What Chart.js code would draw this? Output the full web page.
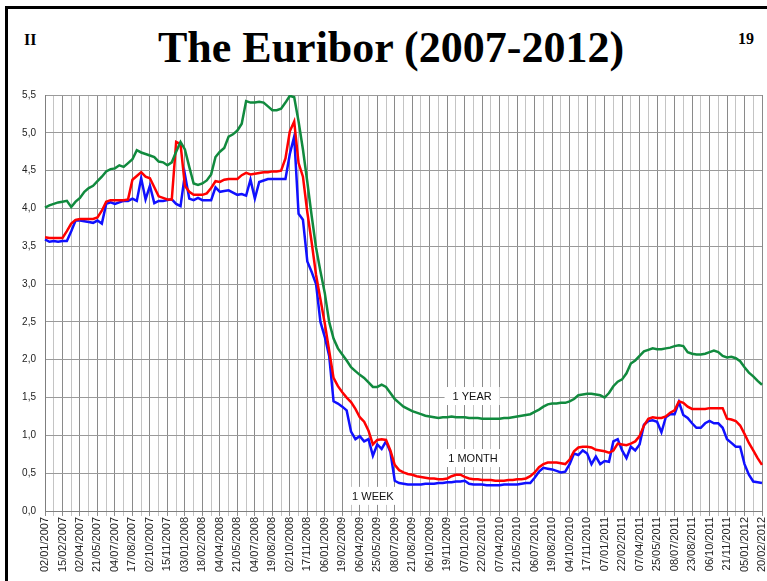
<!DOCTYPE html>
<html>
<head>
<meta charset="utf-8">
<script src="https://cdn.jsdelivr.net/npm/chart.js@4"></script>
<style>
  body { margin: 0; width: 767px; height: 581px; overflow: hidden; background: #fff; position: relative; }
  #frame { position: absolute; left: 5px; top: 6px; width: 770px; height: 600px;
           border-left: 3px solid #000; border-top: 3px solid #000; }
  .hd { position: absolute; font-family: "Liberation Serif", "Times New Roman", serif; font-weight: bold; color: #000; }
  #title { left: 0; width: 782px; text-align: center; top: 22px; font-size: 44px; }
  #sec { left: 24px; top: 31px; font-size: 16px; }
  #pg { left: 738px; top: 30px; font-size: 16px; }
  #c { position: absolute; left: 0; top: 0; }
</style>
</head>
<body>
<div id="frame"></div>
<div class="hd" id="sec">II</div>
<div class="hd" id="title">The Euribor (2007-2012)</div>
<div class="hd" id="pg">19</div>
<canvas id="c" width="767" height="581"></canvas>
<script>
// tick labels on the date axis (one every 4 samples)
var dateLabels = ["02/01/2007","15/02/2007","02/04/2007","21/05/2007","04/07/2007","17/08/2007","02/10/2007","15/11/2007",
  "03/01/2008","18/02/2008","04/04/2008","21/05/2008","04/07/2008","19/08/2008","02/10/2008","17/11/2008",
  "06/01/2009","19/02/2009","06/04/2009","25/05/2009","08/07/2009","21/08/2009","06/10/2009","19/11/2009",
  "07/01/2010","22/02/2010","07/04/2010","21/05/2010","06/07/2010","19/08/2010","04/10/2010","17/11/2010",
  "07/01/2011","22/02/2011","07/04/2011","25/05/2011","08/07/2011","23/08/2011","06/10/2011","21/11/2011",
  "05/01/2012","20/02/2012"];
var perLabel = 4;

var week = [3.59,3.56,3.57,3.56,3.57,3.57,3.70,3.84,3.84,3.83,
  3.82,3.81,3.84,3.80,4.06,4.08,4.06,4.08,4.10,4.10,
  4.13,4.10,4.40,4.12,4.30,4.07,4.10,4.10,4.11,4.12,
  4.06,4.03,4.45,4.13,4.11,4.14,4.11,4.11,4.11,4.28,
  4.22,4.23,4.24,4.21,4.18,4.19,4.17,4.38,4.13,4.35,
  4.37,4.39,4.39,4.39,4.39,4.39,4.72,4.95,3.93,3.85,
  3.30,3.16,3.00,2.50,2.30,2.05,1.45,1.42,1.38,1.33,
  1.05,0.95,0.99,0.92,0.95,0.73,0.88,0.82,0.92,0.78,
  0.40,0.37,0.36,0.35,0.35,0.35,0.35,0.36,0.36,0.36,
  0.37,0.37,0.38,0.38,0.39,0.39,0.40,0.36,0.35,0.35,
  0.35,0.34,0.34,0.34,0.34,0.35,0.35,0.35,0.35,0.36,
  0.37,0.37,0.44,0.52,0.57,0.56,0.55,0.53,0.51,0.52,
  0.62,0.76,0.74,0.80,0.76,0.62,0.72,0.62,0.66,0.65,
  0.92,0.95,0.80,0.70,0.85,0.80,0.88,1.14,1.19,1.20,
  1.18,1.04,1.24,1.28,1.28,1.44,1.27,1.23,1.16,1.10,
  1.10,1.16,1.19,1.16,1.16,1.10,0.95,0.90,0.85,0.85,
  0.62,0.48,0.39,0.38,0.37];

var month = [3.62,3.61,3.61,3.61,3.61,3.70,3.80,3.85,3.86,3.86,
  3.86,3.86,3.88,3.97,4.09,4.11,4.11,4.11,4.11,4.12,
  4.38,4.43,4.48,4.42,4.40,4.28,4.16,4.14,4.12,4.12,
  4.88,4.85,4.30,4.22,4.18,4.18,4.18,4.20,4.27,4.36,
  4.35,4.38,4.39,4.39,4.39,4.44,4.47,4.45,4.46,4.47,
  4.48,4.48,4.49,4.49,4.50,4.66,5.02,5.15,4.60,4.42,
  3.95,3.55,3.12,2.80,2.48,2.12,1.76,1.65,1.57,1.50,
  1.44,1.35,1.24,1.18,1.06,0.88,0.94,0.95,0.94,0.80,
  0.61,0.54,0.51,0.49,0.48,0.46,0.45,0.44,0.43,0.43,
  0.42,0.42,0.43,0.46,0.48,0.48,0.45,0.43,0.42,0.42,
  0.41,0.41,0.41,0.40,0.40,0.40,0.41,0.41,0.42,0.42,
  0.43,0.46,0.51,0.58,0.62,0.64,0.64,0.64,0.63,0.62,
  0.68,0.79,0.84,0.85,0.85,0.84,0.81,0.80,0.79,0.77,
  0.80,0.89,0.88,0.87,0.89,0.92,0.99,1.13,1.22,1.24,
  1.23,1.23,1.25,1.30,1.33,1.45,1.43,1.38,1.35,1.35,
  1.35,1.35,1.36,1.36,1.36,1.36,1.22,1.21,1.19,1.13,
  1.02,0.90,0.80,0.70,0.61];

var year = [4.01,4.04,4.06,4.08,4.09,4.10,4.02,4.09,4.14,4.22,
  4.27,4.30,4.36,4.42,4.49,4.52,4.53,4.57,4.55,4.60,
  4.65,4.77,4.74,4.72,4.70,4.68,4.62,4.61,4.57,4.61,
  4.75,4.88,4.78,4.55,4.33,4.31,4.33,4.37,4.45,4.68,
  4.75,4.80,4.95,4.98,5.03,5.12,5.42,5.40,5.40,5.41,
  5.40,5.35,5.30,5.30,5.32,5.40,5.49,5.47,5.15,4.78,
  4.35,3.90,3.48,3.17,2.88,2.50,2.28,2.15,2.07,1.99,
  1.90,1.85,1.80,1.76,1.70,1.64,1.64,1.67,1.64,1.56,
  1.48,1.43,1.38,1.35,1.32,1.30,1.28,1.26,1.25,1.24,
  1.23,1.24,1.24,1.25,1.24,1.24,1.24,1.23,1.23,1.23,
  1.22,1.22,1.22,1.22,1.22,1.23,1.23,1.24,1.25,1.26,
  1.27,1.28,1.31,1.34,1.38,1.41,1.42,1.42,1.43,1.43,
  1.45,1.48,1.53,1.54,1.55,1.55,1.54,1.53,1.50,1.56,
  1.65,1.71,1.74,1.82,1.95,1.99,2.05,2.11,2.13,2.15,
  2.14,2.14,2.15,2.16,2.18,2.19,2.18,2.10,2.08,2.07,
  2.07,2.08,2.10,2.12,2.10,2.05,2.03,2.04,2.02,1.98,
  1.90,1.83,1.78,1.72,1.67];

var seriesNames = ["1 YEAR", "1 MONTH", "1 WEEK"];
// where the series names sit: sample index and rate
var noteAt = [[97.7, 1.52], [97.9, 0.70], [75.0, 0.20]];

var categories = [];
for (var i = 0; i < week.length; i++) {
  categories.push(i % perLabel === 0 ? dateLabels[i / perLabel] : "");
}

Chart.defaults.font.family = "'Liberation Sans', Arial, sans-serif";
Chart.defaults.color = "#222";

var notes = {
  id: "notes",
  beforeDatasetsDraw: function (chart) {
    var c = chart.ctx, xs = chart.scales.x, ys = chart.scales.y;
    c.save();
    c.font = "11px 'Liberation Sans', Arial, sans-serif";
    c.textAlign = "center";
    c.textBaseline = "middle";
    for (var k = 0; k < seriesNames.length; k++) {
      var px = xs.getPixelForValue(noteAt[k][0]);
      var py = ys.getPixelForValue(noteAt[k][1]);
      var w = c.measureText(seriesNames[k]).width + 16;
      c.fillStyle = "#fff";
      c.fillRect(px - w / 2, py - 9, w, 18);
      c.fillStyle = "#111";
      c.fillText(seriesNames[k], px, py + 1);
    }
    c.restore();
  }
};

new Chart(document.getElementById("c"), {
  type: "line",
  data: {
    labels: categories,
    datasets: [
      { label: "1 YEAR", data: year, borderColor: "#118a3e", borderWidth: 2.5 },
      { label: "1 MONTH", data: month, borderColor: "#ff0000", borderWidth: 2.5 },
      { label: "1 WEEK", data: week, borderColor: "#1010ff", borderWidth: 2.5 }
    ]
  },
  options: {
    responsive: false,
    animation: false,
    events: [],
    elements: { point: { radius: 0 }, line: { tension: 0 } },
    layout: { padding: { top: 95, left: 0, right: 5, bottom: 0 } },
    plugins: { legend: { display: false }, tooltip: { enabled: false } },
    scales: {
      x: {
        type: "category",
        offset: false,
        afterFit: function (s) { s.height = 70; s.paddingLeft = 0; s.paddingRight = 0; },
        border: { color: "#7f7f7f", width: 1 },
        grid: {
          tickLength: 5,
          lineWidth: 1,
          color: function (ctx) {
            if (ctx.index % 2 !== 0) return "rgba(0,0,0,0)";
            return ctx.index % 4 === 0 ? "#8a8a8a" : "#c4c4c4";
          }
        },
        ticks: {
          autoSkip: false,
          minRotation: 90,
          maxRotation: 90,
          padding: 1,
          font: { size: 11 },
          color: "#222",
          callback: function (v, idx) { return categories[idx]; }
        }
      },
      y: {
        min: 0,
        max: 5.5,
        afterFit: function (s) { s.width = 45; },
        border: { color: "#7f7f7f", width: 1 },
        grid: { color: "#9a9a9a", drawTicks: false },
        ticks: {
          stepSize: 0.5,
          padding: 9,
          font: { size: 10 },
          color: "#222",
          callback: function (v) { return v.toFixed(1).replace(".", ","); }
        }
      }
    }
  },
  plugins: [notes]
});
</script>
</body>
</html>
